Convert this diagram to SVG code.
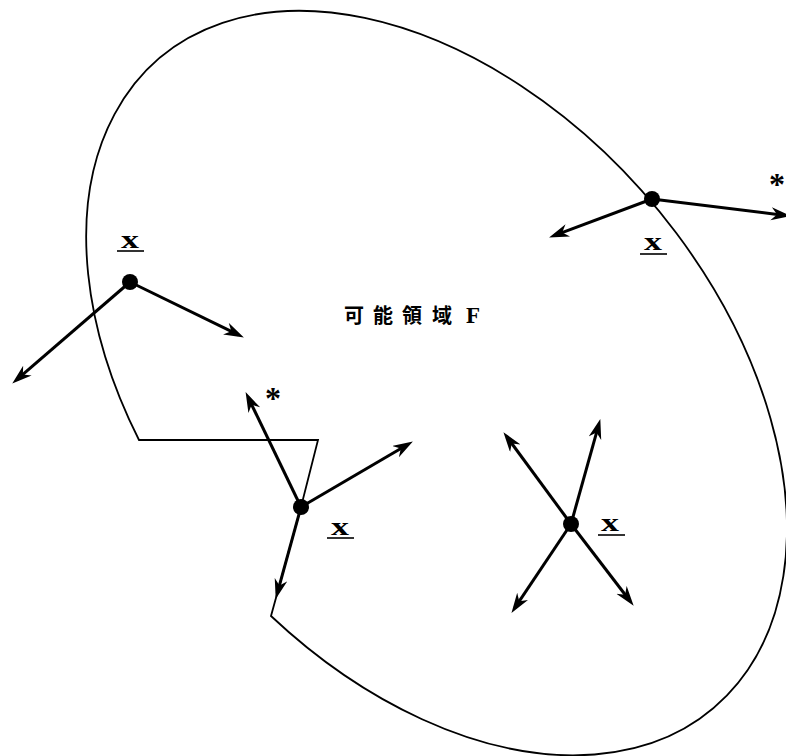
<svg xmlns="http://www.w3.org/2000/svg" width="786" height="756" viewBox="0 0 786 756">
<defs>
<style>
.outline{fill:none;stroke:#000;stroke-width:1.8;stroke-linejoin:miter}
.arr{stroke:#000;stroke-width:3;fill:none;marker-end:url(#ah)}
.dot{fill:#000}
.xl{font-family:"Liberation Serif",serif;font-weight:bold;font-size:26px;fill:#000}
.ul{stroke:#000;stroke-width:1.6}
.ast{font-family:"Liberation Serif",serif;font-weight:bold;font-size:32px;fill:#000}
.lbl{font-family:"Noto Sans CJK JP","Noto Sans CJK SC",sans-serif;font-weight:bold;font-size:20px;fill:#000}
.lblf{font-family:"Liberation Serif",serif;font-weight:bold;font-size:23px;fill:#000}
</style>
<marker id="ah" markerUnits="userSpaceOnUse" markerWidth="22" markerHeight="14" refX="14" refY="6.5" orient="auto">
<path d="M0,0 L20,6.5 L0,13 L6,6.5 Z" fill="#000"/>
</marker>
</defs>
<g id="region">
<path class="outline" d="M271,616 L301,507 L318,440 L139,440 A427,281 49.4 1 1 271,616 Z"/>
<text class="lbl" x="354" y="323" text-anchor="middle">可</text>
<text class="lbl" x="383" y="323" text-anchor="middle">能</text>
<text class="lbl" x="412" y="323" text-anchor="middle">領</text>
<text class="lbl" x="442" y="323" text-anchor="middle">域</text>
<text class="lblf" x="473" y="323" text-anchor="middle">F</text>
</g>
<g id="connectors">
<line class="arr" x1="130" y1="282" x2="238.5" y2="334.8"/>
<line class="arr" x1="130" y1="282" x2="16.8" y2="379.7"/>
<line class="arr" x1="652" y1="199" x2="554.7" y2="235.3"/>
<line class="arr" x1="652" y1="199" x2="785" y2="215.4"/>
<line class="arr" x1="301" y1="507" x2="248.2" y2="397.5"/>
<line class="arr" x1="301" y1="507" x2="407.7" y2="444.5"/>
<line class="arr" x1="301" y1="507" x2="277.3" y2="593.2"/>
<line class="arr" x1="571" y1="524" x2="507" y2="437"/>
<line class="arr" x1="571" y1="524" x2="598.7" y2="424.8"/>
<line class="arr" x1="571" y1="524" x2="514.8" y2="607.9"/>
<line class="arr" x1="571" y1="524" x2="630" y2="601"/>
</g>
<g id="p1">
<circle class="dot" cx="130" cy="282" r="8"/>
<text class="xl" x="130" y="248" text-anchor="middle" textLength="18" lengthAdjust="spacingAndGlyphs">x</text>
<line class="ul" x1="117" y1="251" x2="144" y2="251"/>
</g>
<g id="p2">
<circle class="dot" cx="652" cy="199" r="8"/>
<text class="xl" x="653" y="250" text-anchor="middle" textLength="18" lengthAdjust="spacingAndGlyphs">x</text>
<line class="ul" x1="640" y1="254" x2="667" y2="254"/>
<text class="ast" x="777" y="195" text-anchor="middle">*</text>
</g>
<g id="p3">
<circle class="dot" cx="301" cy="507" r="8"/>
<text class="xl" x="340" y="535" text-anchor="middle" textLength="18" lengthAdjust="spacingAndGlyphs">x</text>
<line class="ul" x1="327" y1="538" x2="354" y2="538"/>
<text class="ast" x="273" y="409" text-anchor="middle">*</text>
</g>
<g id="p4">
<circle class="dot" cx="571" cy="524" r="8"/>
<text class="xl" x="610" y="531" text-anchor="middle" textLength="18" lengthAdjust="spacingAndGlyphs">x</text>
<line class="ul" x1="598" y1="535" x2="625" y2="535"/>
</g>
</svg>
